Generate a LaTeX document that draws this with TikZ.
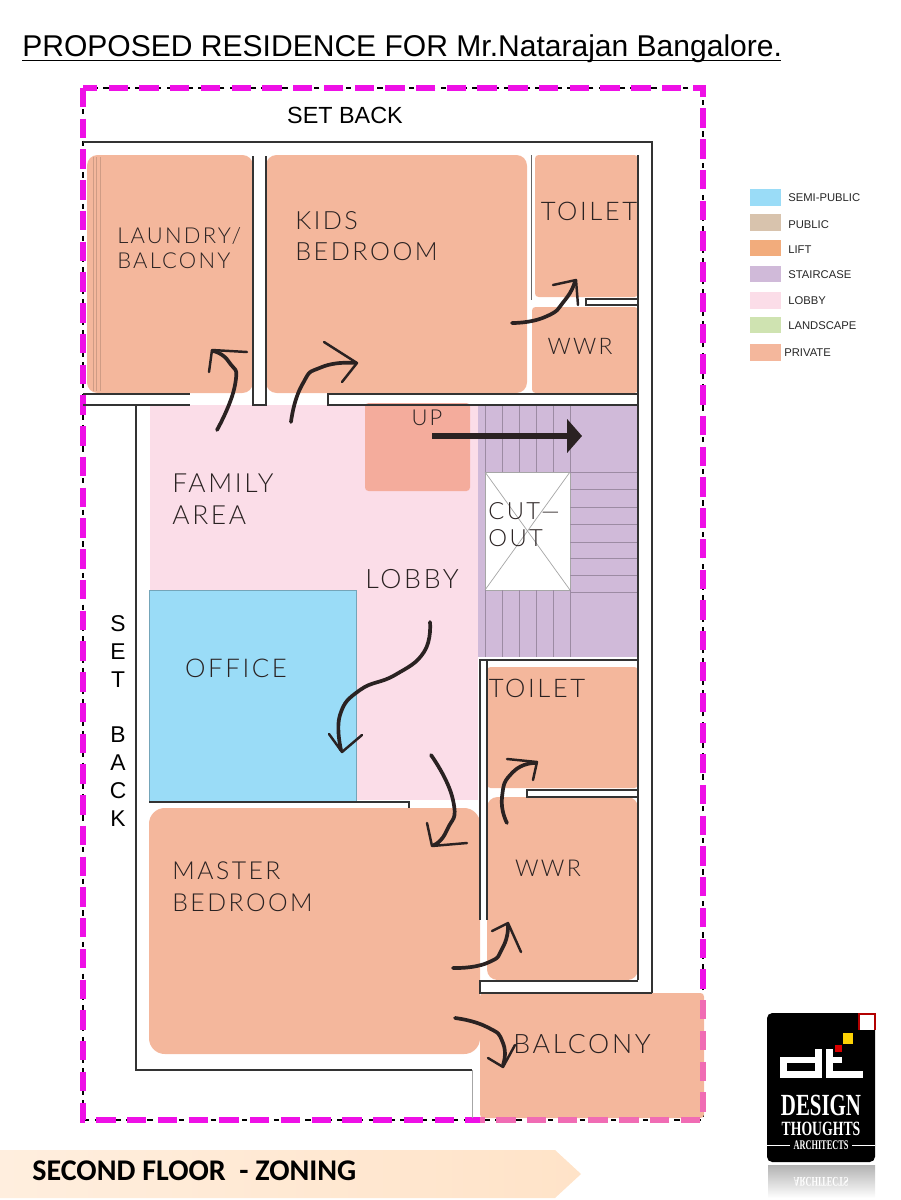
\documentclass[tikz,border=0pt]{standalone}
\usepackage{fontspec}
\usepackage{tikz}
\usetikzlibrary{arrows.meta}

\setmainfont{Liberation Sans}
\newfontfamily\roomfont[LetterSpace=10]{Lato Light}
\newfontfamily\footfont{Carlito}
\newfontfamily\logofont{Liberation Serif}

\definecolor{privatezone}{HTML}{F4B79C}
\definecolor{lobbyzone}{HTML}{FBDDE8}
\definecolor{officezone}{HTML}{9ADCF7}
\definecolor{stairzone}{HTML}{D0BAD9}
\definecolor{liftzone}{HTML}{F4AC9C}
\definecolor{publickey}{HTML}{D8C3AD}
\definecolor{liftkey}{HTML}{F2AC7C}
\definecolor{landkey}{HTML}{CFE3B1}
\definecolor{framepink}{HTML}{EE10E6}
\definecolor{framesoft}{HTML}{F06CB4}
\definecolor{inkdark}{HTML}{2A2222}
\definecolor{footband}{HTML}{FFE3C8}

\tikzset{
  wall/.style={line width=1.1pt, draw=black!80},
  thinline/.style={line width=0.4pt, draw=black!35},
  roomzone/.style={fill=privatezone, rounded corners=6pt},
  roomlabel/.style={text=inkdark, align=left, inner sep=0pt},
  sketch/.style={line width=2.1pt, draw=inkdark, line cap=round, line join=round},
  sketchhead/.style={line width=1.4pt, draw=inkdark, line cap=round, line join=round},
  framedash/.style={line width=2.9pt, dash pattern=on 11pt off 6.5pt},
  keybox/.style={minimum width=17.6pt, minimum height=9.4pt, inner sep=0pt, anchor=west},
  keylabel/.style={anchor=west, inner sep=0pt, text=black!85, font=\fontsize{6.4}{7}\selectfont},
}

\begin{document}
\begin{tikzpicture}[x=0.02cm, y=-0.02cm]
    \useasboundingbox (0, 0) rectangle (900, 1200);

    % title
    \node[anchor=base west, inner sep=0pt, font=\fontsize{17.1}{19}\selectfont](title) at (22, 56)
      {PROPOSED RESIDENCE FOR Mr.Natarajan Bangalore.};
    \draw [line width=1.1pt] (22, 60.5) -- (781, 60.5);

    % site boundary
    \draw [line width=0.6pt, dashed] (83, 88) rectangle (703, 1120);
    \draw [framedash, framepink] (83, 88) rectangle (703, 1120);
    \node[font=\fontsize{13.3}{15}\selectfont](setbacktop) at (345, 115){SET BACK};
    \node[align=center, font=\fontsize{13}{15.9}\selectfont](setbackleft) at (118, 721)
      {S\\E\\T\\ \\B\\A\\C\\K};

    % lobby and its neighbours
    \fill [lobbyzone] (150, 405) rectangle (478, 800);
    \fill [officezone] (149, 590) rectangle (356, 802);
    \draw [line width=0.5pt, officezone!75!black] (149, 590) rectangle (356, 802);
    \fill [liftzone, rounded corners=2pt] (365, 403) rectangle (470, 491);

    % private rooms
    \fill [roomzone] (87, 155) rectangle (253, 393);
    \fill [roomzone] (266, 155) rectangle (527, 393);
    \fill [roomzone, rounded corners=2pt] (535, 155) rectangle (638, 297);
    \fill [roomzone, rounded corners=2pt] (532, 307) rectangle (638, 393);
    \fill [roomzone, rounded corners=2pt] (487, 667) rectangle (638, 788);
    \fill [roomzone] (487, 797) rectangle (638, 980);
    \fill [roomzone, rounded corners=9pt] (149, 808) rectangle (480, 1054);
    \fill [roomzone, rounded corners=2pt] (480, 993) rectangle (704, 1118);
    \draw [line width=0.4pt, privatezone!85!black] (93, 157) -- (93, 391);
    \draw [line width=0.4pt, privatezone!85!black] (96, 157) -- (96, 391);
    \draw [line width=0.4pt, privatezone!85!black] (100, 157) -- (100, 391);

    % boundary seen through the balcony
    \draw [framedash, framesoft] (703, 1000) -- (703, 1120) -- (480, 1120);

    % staircase
    \fill [stairzone] (478, 405) rectangle (638, 657);
    \fill [white] (485, 472) rectangle (570, 590);
    \draw [thinline] (485, 472) rectangle (570, 590);
    \draw [thinline] (485, 472) -- (570, 590);
    \draw [thinline] (570, 472) -- (485, 590);
    \draw [line width=0.4pt, stairzone!75!black]
      (485, 405) -- (485, 472) (502, 405) -- (502, 472) (519, 405) -- (519, 472)
      (536, 405) -- (536, 472) (553, 405) -- (553, 472) (570, 405) -- (570, 472)
      (485, 590) -- (485, 657) (502, 590) -- (502, 657) (519, 590) -- (519, 657)
      (536, 590) -- (536, 657) (553, 590) -- (553, 657) (570, 590) -- (570, 657);
    \draw [line width=0.4pt, stairzone!75!black]
      (570, 472) -- (638, 472) (570, 489) -- (638, 489) (570, 507) -- (638, 507)
      (570, 524) -- (638, 524) (570, 542) -- (638, 542) (570, 558) -- (638, 558)
      (570, 575) -- (638, 575) (570, 592) -- (638, 592);

    % outer walls
    \draw [wall] (83, 142) -- (652, 142) -- (652, 993);
    \draw [wall] (638, 155) -- (638, 980);
    \draw [wall] (83, 394) -- (190, 394);
    \draw [wall] (83, 405) -- (190, 405);
    \draw [wall] (136, 405) -- (136, 1070) -- (472, 1070);
    \draw [thinline] (472, 1070) -- (472, 1118);

    % inner walls
    \draw [wall] (253, 156) -- (253, 405) -- (266, 405) -- (266, 156);
    \draw [wall] (638, 394) -- (328, 394) -- (328, 405) -- (638, 405);
    \draw [line width=0.5pt, black!60] (531, 155) -- (531, 300);
    \draw [wall] (638, 299) -- (586, 299) -- (586, 305) -- (638, 305);
    \draw [wall] (638, 660) -- (480, 660) -- (480, 920);
    \draw [wall] (487, 660) -- (487, 920);
    \draw [wall] (638, 790) -- (527, 790) -- (527, 797) -- (638, 797);
    \draw [wall] (638, 981) -- (480, 981) -- (480, 993) -- (652, 993);
    \draw [wall] (149, 802) -- (409, 802) -- (409, 808);

    % room names
    \node[roomlabel, anchor=base west, font=\roomfont\fontsize{12.5}{13.8}\selectfont](laundry) at (117, 268){LAUNDRY/\\BALCONY};
    \node[roomlabel, anchor=base west, font=\roomfont\fontsize{14.3}{17.6}\selectfont](kids) at (295, 260){KIDS\\BEDROOM};
    \node[roomlabel, font=\roomfont\fontsize{14.6}{18}\selectfont](toiletup) at (589, 211){TOILET};
    \node[roomlabel, font=\roomfont\fontsize{13}{16}\selectfont](wwrup) at (580, 346){WWR};
    \node[roomlabel, font=\roomfont\fontsize{12.5}{15}\selectfont](up) at (427, 418){UP};
    \node[roomlabel, anchor=base west, font=\roomfont\fontsize{15}{18}\selectfont](family) at (172, 524){FAMILY\\AREA};
    \node[roomlabel, font=\roomfont\fontsize{15.2}{17}\selectfont](lobby) at (412, 579){LOBBY};
    \node[roomlabel, font=\roomfont\fontsize{14.7}{17}\selectfont](office) at (236, 668){OFFICE};
    \node[roomlabel, font=\roomfont\fontsize{14.6}{17}\selectfont](toiletlow) at (537, 688){TOILET};
    \node[roomlabel, font=\roomfont\fontsize{13.2}{16}\selectfont](wwrlow) at (548, 868){WWR};
    \node[roomlabel, anchor=base west, font=\roomfont\fontsize{14.1}{17.7}\selectfont](master) at (172, 911){MASTER\\BEDROOM};
    \node[roomlabel, font=\roomfont\fontsize{15.2}{17}\selectfont](balcony) at (582, 1044){BALCONY};
    \node[roomlabel, anchor=base west, font=\roomfont\fontsize{13.5}{15.2}\selectfont](cutout) at (488, 546){CUT—\\OUT};

    % stair direction
    \draw [line width=2.9pt, inkdark, -{Triangle[length=8.4pt, width=18.7pt]}] (432, 436) -- (582, 436);

    % laundry door
    \draw [sketch] plot [smooth, tension=1]
      coordinates{(217, 430) (235, 385) (229, 362) (213, 351)};
    \draw [sketchhead] (209, 372) -- (212, 350) -- (247, 352);

    % kids door
    \draw [sketch] plot [smooth, tension=1]
      coordinates{(291, 422) (302, 385) (322, 367) (356, 363)};
    \draw [sketchhead] (324, 342) -- (357, 363) -- (342, 382);

    % top toilet door
    \draw [sketch] plot [smooth, tension=1]
      coordinates{(512, 323) (545, 317) (565, 300) (575, 281)};
    \draw [sketchhead] (553, 285) -- (576, 280) -- (578, 305);

    % office door
    \draw [sketch] plot [smooth, tension=0.8]
      coordinates{(430, 622) (424, 652) (395, 675) (360, 690) (340, 715) (341, 750)};
    \draw [sketchhead] (329, 734) -- (342, 752) -- (362, 735);

    % master door
    \draw [sketch] plot [smooth, tension=1]
      coordinates{(431, 755) (453, 800) (447, 830) (434, 845)};
    \draw [sketchhead] (427, 823) -- (432, 846) -- (467, 843);

    % lower toilet door
    \draw [sketch] plot [smooth, tension=1]
      coordinates{(507, 823) (502, 797) (513, 772) (535, 763)};
    \draw [sketchhead] (507, 759) -- (537, 762) -- (533, 780);

    % lower wwr door
    \draw [sketch] plot [smooth, tension=1]
      coordinates{(453, 968) (487, 963) (503, 947) (508, 925)};
    \draw [sketchhead] (492, 931) -- (508, 923) -- (521, 952);

    % balcony door
    \draw [sketch] plot [smooth, tension=1]
      coordinates{(455, 1018) (487, 1027) (503, 1043) (503, 1065)};
    \draw [sketchhead] (488, 1058) -- (503, 1067) -- (515, 1045);

    % legend
    \node[keybox, fill=officezone](keysemi) at (750, 197.5){};
    \node[keybox, fill=publickey](keypublic) at (750, 222.5){};
    \node[keybox, fill=liftkey](keylift) at (750, 248){};
    \node[keybox, fill=stairzone](keystair) at (750, 274){};
    \node[keybox, fill=lobbyzone](keylobby) at (750, 300.5){};
    \node[keybox, fill=landkey](keyland) at (750, 325){};
    \node[keybox, fill=privatezone](keyprivate) at (750, 352.5){};
    \node[keylabel](textsemi) at (788, 197.5){SEMI-PUBLIC};
    \node[keylabel](textpublic) at (788, 224.5){PUBLIC};
    \node[keylabel](textlift) at (788, 249.5){LIFT};
    \node[keylabel](textstair) at (788, 274.5){STAIRCASE};
    \node[keylabel](textlobby) at (788, 300.5){LOBBY};
    \node[keylabel](textland) at (788, 325.5){LANDSCAPE};
    \node[keylabel](textprivate) at (784, 352.5){PRIVATE};

    % logo
    \fill [black, rounded corners=3pt] (767, 1013) rectangle (875, 1162);
    \fill [white] (859, 1013) rectangle (876, 1030);
    \draw [line width=0.7pt, red!70!black] (859, 1030) -- (859, 1014) -- (875, 1014) -- (875, 1030);
    \fill [yellow!70!orange] (843, 1033) rectangle (853, 1044);
    \fill [red!85!black] (835, 1045) rectangle (842, 1052);
    \fill [white] (780, 1057) rectangle (822, 1063);
    \fill [white] (780, 1071) rectangle (822, 1078);
    \fill [white] (780, 1057) rectangle (787, 1078);
    \fill [white] (815, 1049) rectangle (822, 1078);
    \fill [white] (826, 1049) rectangle (833, 1078);
    \fill [white] (826, 1057) rectangle (842, 1063);
    \fill [white] (826, 1071) rectangle (863, 1078);
    \node[text=white, inner sep=0pt, xscale=0.68, transform shape, font=\logofont\bfseries\fontsize{17.5}{19}\selectfont](logodesign) at (821, 1105){DESIGN};
    \node[text=white, inner sep=0pt, xscale=0.68, transform shape, font=\logofont\bfseries\fontsize{11.5}{13}\selectfont](logothoughts) at (821, 1129){THOUGHTS};
    \node[text=white, inner sep=0pt, xscale=0.63, transform shape, font=\logofont\bfseries\fontsize{7.5}{9}\selectfont](logoarch) at (821, 1145){ARCHITECTS};
    \draw [white, line width=0.4pt] (767, 1145) -- (790, 1145);
    \draw [white, line width=0.4pt] (852, 1145) -- (875, 1145);

    % logo reflection
    \shade [top color=black!30, bottom color=white] (768, 1165) rectangle (875, 1198);
    \node[text=white, inner sep=0pt, xscale=0.63, yscale=-1, transform shape, font=\logofont\bfseries\fontsize{7.5}{9}\selectfont](logomirror) at (821, 1182){ARCHITECTS};

    % footer band
    \shade [left color=footband!60, right color=footband] (0, 1150) -- (555, 1150) -- (581, 1174) -- (555, 1198) -- (0, 1198) -- cycle;
    \node[anchor=west, inner sep=0pt, font=\footfont\bfseries\fontsize{17.1}{18}\selectfont](footer) at (32, 1171){SECOND FLOOR\ \ - ZONING};
\end{tikzpicture}
\end{document}
